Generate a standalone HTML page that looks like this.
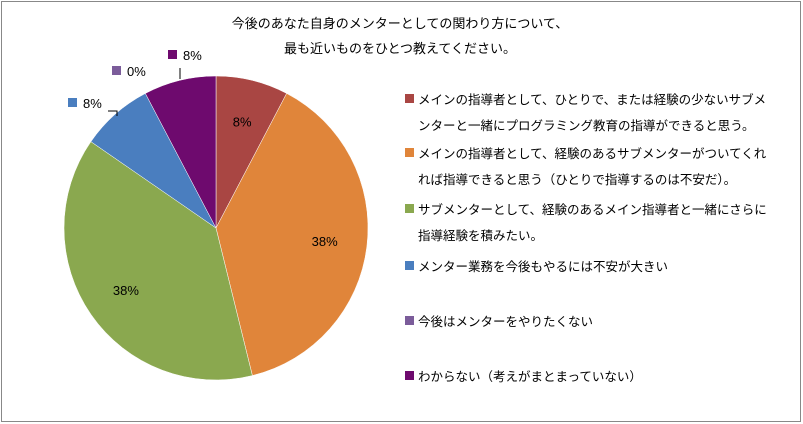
<!DOCTYPE html>
<html><head><meta charset="utf-8">
<style>
body{margin:0;background:#fff;}
#c{position:relative;width:803px;height:424px;overflow:hidden;}
svg text{font-family:"Liberation Sans","Noto Sans CJK JP",sans-serif;}
</style></head>
<body>
<div id="c">
<svg id="svg" width="803" height="424" xmlns="http://www.w3.org/2000/svg">
<rect x="1.5" y="1.5" width="799" height="420" fill="#fff" stroke="#888"/>
<text x="400" y="28" font-size="13" text-anchor="middle" fill="#000">今後のあなた自身のメンターとしての関わり方について、</text>
<text x="400" y="53" font-size="13" text-anchor="middle" fill="#000">最も近いものをひとつ教えてください。</text>
<g id="slices"></g>
<g id="labels"></g>
<g id="legend"></g>
</svg>
</div>
<script>
const categories=["メインの指導者として、ひとりで、または経験の少ないサブメンターと一緒にプログラミング教育の指導ができると思う。","メインの指導者として、経験のあるサブメンターがついてくれれば指導できると思う（ひとりで指導するのは不安だ）。","サブメンターとして、経験のあるメイン指導者と一緒にさらに指導経験を積みたい。","メンター業務を今後もやるには不安が大きい","今後はメンターをやりたくない","わからない（考えがまとまっていない）"];
const legendLines=[["メインの指導者として、ひとりで、または経験の少ないサブメ","ンターと一緒にプログラミング教育の指導ができると思う。"],["メインの指導者として、経験のあるサブメンターがついてくれ","れば指導できると思う（ひとりで指導するのは不安だ）。"],["サブメンターとして、経験のあるメイン指導者と一緒にさらに","指導経験を積みたい。"],["メンター業務を今後もやるには不安が大きい"],["今後はメンターをやりたくない"],["わからない（考えがまとまっていない）"]];
const values=[1,5,5,1,0,1];
const pctLabels=["8%","38%","38%","8%","0%","8%"];
const colors=["#a94643","#e0853a","#8aa84f","#4a7ebf","#7b5c9a","#6e0a6e"];
const NS="http://www.w3.org/2000/svg";
const cx=216,cy=228,r=152;
const total=values.reduce((a,b)=>a+b,0);
function pt(a,rr){return [cx+rr*Math.sin(a),cy-rr*Math.cos(a)];}
const sg=document.getElementById('slices'),lg=document.getElementById('labels'),leg=document.getElementById('legend');
let acc=0;
const outside={3:[68,108],4:[112,76],5:[168,60]};
values.forEach((v,i)=>{
  const a0=acc/total*2*Math.PI;acc+=v;const a1=acc/total*2*Math.PI;
  if(v>0){
    const p0=pt(a0,r),p1=pt(a1,r);
    const large=(a1-a0)>Math.PI?1:0;
    const p=document.createElementNS(NS,'path');
    p.setAttribute('d',`M${cx},${cy}L${p0[0]},${p0[1]}A${r},${r} 0 ${large} 1 ${p1[0]},${p1[1]}Z`);
    p.setAttribute('fill',colors[i]);p.setAttribute('stroke','#fff');p.setAttribute('stroke-width','0.5');
    
    
    sg.appendChild(p);
  }
  const mid=(a0+a1)/2;
  const t=document.createElementNS(NS,'text');
  t.setAttribute('font-size','13');t.setAttribute('font-family','"Liberation Serif",serif');
  
  
  t.textContent=pctLabels[i];
  if(outside[i]){
    const [x,y]=outside[i];
    const sq=document.createElementNS(NS,'rect');
    sq.setAttribute('x',x);sq.setAttribute('y',y-10);sq.setAttribute('width',9);sq.setAttribute('height',9);sq.setAttribute('fill',colors[i]);
    
    
    lg.appendChild(sq);
    t.setAttribute('x',x+15);t.setAttribute('y',y);
  } else {
    const q=pt(mid,r*0.72);
    t.setAttribute('x',q[0]);t.setAttribute('y',q[1]+5);t.setAttribute('text-anchor','middle');
  }
  lg.appendChild(t);
});
// leader lines
[["M108,111 L117,111 L117,116"],["M180,68 L180,79"]].forEach((d,k)=>{
  const l=document.createElementNS(NS,'path');l.setAttribute('d',d[0]);l.setAttribute('stroke','#000');l.setAttribute('fill','none');
  
  
  lg.appendChild(l);
});
const legY=[103,157,213,270,325,380];
categories.forEach((c,i)=>{
  const y=legY[i];
  const sq=document.createElementNS(NS,'rect');
  sq.setAttribute('x',405);sq.setAttribute('y',y-9);sq.setAttribute('width',9);sq.setAttribute('height',9);sq.setAttribute('fill',colors[i]);
  
  
  leg.appendChild(sq);
  legendLines[i].forEach((ln,j)=>{
    const t=document.createElementNS(NS,'text');
    t.setAttribute('x',418);t.setAttribute('y',y+1+j*26);t.setAttribute('font-size','12.5');
    
    
    t.textContent=ln;leg.appendChild(t);
  });
});
</script>
</body></html>
